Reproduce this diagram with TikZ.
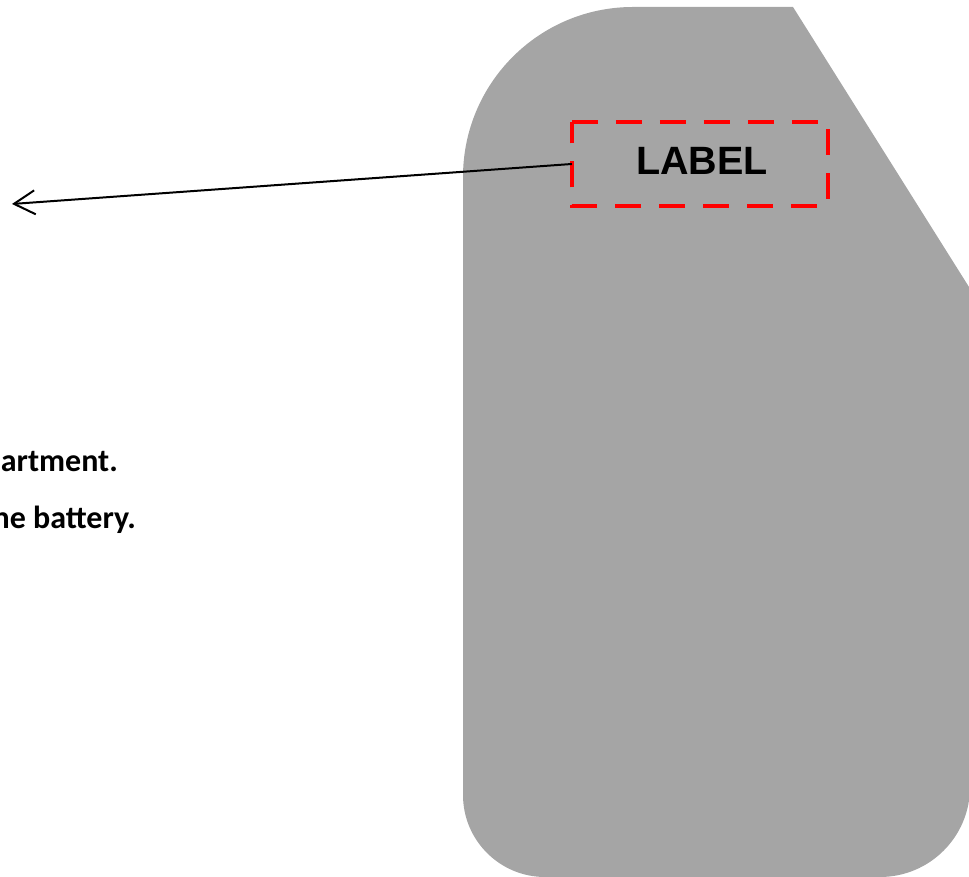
\documentclass[tikz,border=0pt]{standalone}
\usepackage{fontspec}
\setmainfont{Carlito}
\newfontfamily\labelfont{Liberation Sans}
\usetikzlibrary{arrows.meta}
\definecolor{shapegray}{RGB}{165,165,165}
\definecolor{dashred}{RGB}{255,0,0}
\tikzset{
  bodytext/.style={anchor=base east, inner sep=0pt, font=\fontsize{32bp}{36bp}\selectfont\bfseries},
  boxnode/.style={minimum width=256bp, minimum height=84bp, inner sep=0pt},
  dashbox/.style={draw=dashred, line width=4bp, dash pattern=on 26bp off 18bp, line cap=butt},
  labeltext/.style={inner sep=0pt, font=\labelfont\fontsize{39.5bp}{44bp}\selectfont\bfseries},
  pointer/.style={draw=black, line width=2bp, -{Straight Barb[length=21bp, width=24bp, line width=2bp]}}
}
\begin{document}
\begin{tikzpicture}[x=1bp, y=1bp]
\useasboundingbox (0,0) rectangle (969,877);
% grey body
\fill[shapegray] (463,700) arc[start angle=180, end angle=90, radius=170] -- (793,870)
  -- (970,588.4) -- (970,90) arc[start angle=0, end angle=-90, radius=90]
  -- (545,0) arc[start angle=270, end angle=180, radius=82] -- cycle;
% dashed label box
\node[boxnode] (box) at (700,713) {};
\draw[dashbox] (box.north west) -- (box.north east) -- (box.south east) -- (box.south west) -- cycle;
\node[labeltext] (lbl) at (702,716) {LABEL};
% pointer
\coordinate (tip) at (12,673);
\draw[pointer] (box.west) -- (tip);
% text lines
\node[bodytext] (line1) at (118,405) {artment.};
\node[bodytext] (line2) at (136,348) {he battery.};
\end{tikzpicture}
\end{document}
